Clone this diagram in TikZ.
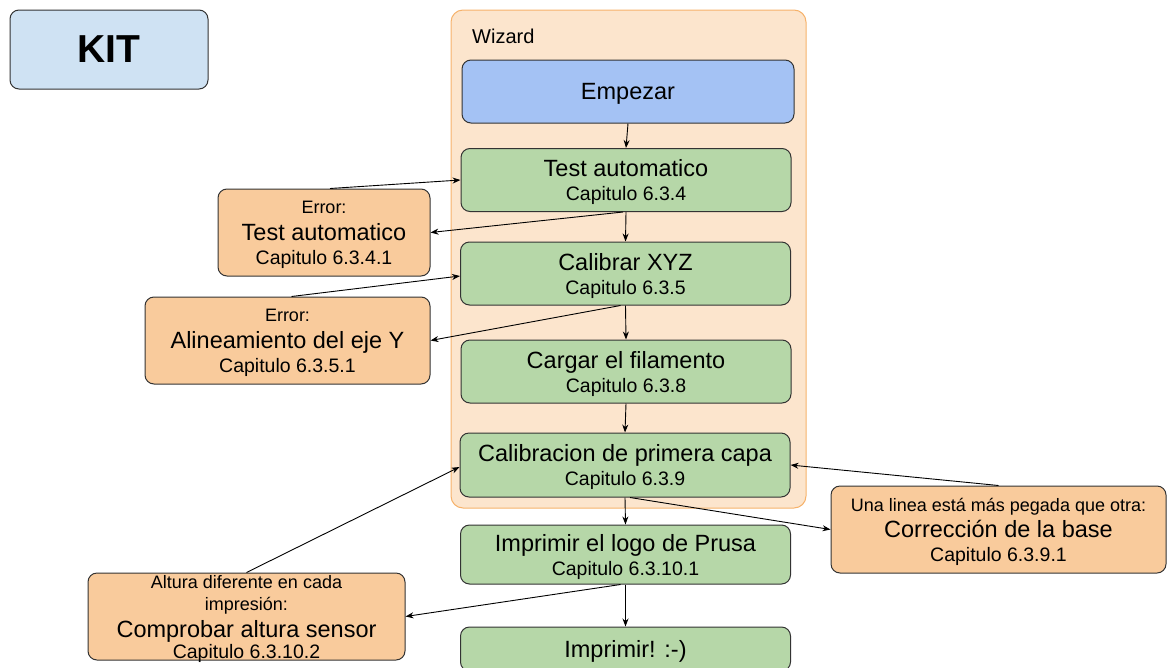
\documentclass[tikz,border=0pt]{standalone}
\usepackage{fontspec}
\setmainfont{Liberation Sans}
\usetikzlibrary{arrows.meta}
\definecolor{kitblue}{HTML}{CFE2F3}
\definecolor{wizfill}{HTML}{FCE5CD}
\definecolor{wizline}{HTML}{F6B26B}
\definecolor{startblue}{HTML}{A4C2F4}
\definecolor{stepgreen}{HTML}{B6D7A8}
\definecolor{erroror}{HTML}{F9CB9C}
\definecolor{edge}{HTML}{333333}
\newcommand\ttlfnt{\fontsize{23.5}{24}\selectfont\lineskiplimit=-20pt}
\newcommand\capfnt{\fontsize{19.5}{24}\selectfont}
\newcommand\smfnt{\fontsize{18}{24}\selectfont}
\tikzset{
  box/.style={draw=edge, line width=1pt, rounded corners=9pt, align=center,
    inner sep=0pt, font=\ttlfnt, text depth=0pt},
  stepbox/.style={box, fill=stepgreen, minimum width=330pt, minimum height=63pt},
  errbox/.style={box, fill=erroror, minimum height=87pt},
  arr/.style={-{Stealth[length=8pt,width=6pt]}, line width=0.9pt, draw=black},
}
\begin{document}
\begin{tikzpicture}[x=1pt,y=-1pt]
\useasboundingbox (0,0) rectangle (1167,667);
% KIT
\node[box, fill=kitblue, minimum width=198pt, minimum height=79pt,
  font=\fontsize{39}{40}\selectfont\bfseries] (kit) at (109,49.5) {KIT};
% Wizard container
\node[draw=wizline, fill=wizfill, line width=1pt, rounded corners=12pt,
  minimum width=355pt, minimum height=498pt, inner sep=0pt] (wiz) at (628.5,259) {};
\node[anchor=base west, inner sep=0pt, font=\fontsize{20}{22}\selectfont] (wizlbl) at (472,43) {Wizard};
% main steps
\node[box, fill=startblue, minimum width=332pt, minimum height=63pt] (emp) at (628,91.5) {Empezar};
\node[stepbox] (test) at (626,180) {Test automatico\\{\capfnt Capitulo 6.3.4}};
\node[stepbox] (cal) at (625.5,273.5) {Calibrar XYZ\\{\capfnt Capitulo 6.3.5}};
\node[stepbox] (carg) at (626,371.5) {Cargar el filamento\\{\capfnt Capitulo 6.3.8}};
\node[stepbox, minimum height=64pt] (capa) at (625,465) {Calibracion de primera capa\\{\capfnt Capitulo 6.3.9}};
\node[stepbox, minimum height=59pt] (logo) at (625.5,554.5) {Imprimir el logo de Prusa\\{\capfnt Capitulo 6.3.10.1}};
\node[stepbox, minimum height=44pt] (impr) at (625.5,649) {Imprimir! :-)};
% error boxes
\node[errbox, minimum width=212pt] (err1) at (324,232.5)
  {{\smfnt Error:}\\[3pt]Test automatico\\{\capfnt Capitulo 6.3.4.1}};
\node[errbox, minimum width=285pt] (err2) at (287.5,340.5)
  {{\smfnt Error:}\\[3pt]Alineamiento del eje Y\\{\capfnt Capitulo 6.3.5.1}};
\node[errbox, minimum width=335pt] (corr) at (998.5,529.5)
  {{\smfnt Una linea está más pegada que otra:}\\[2pt]Corrección de la base\\{\capfnt Capitulo 6.3.9.1}};
\node[errbox, minimum width=317pt] (comp) at (246.5,616.5)
  {{\smfnt Altura diferente en cada}\\[-2pt]{\smfnt impresión:}\\[3pt]Comprobar altura sensor\\[-3pt]{\capfnt Capitulo 6.3.10.2}};
% connectors
\draw[arr] (emp.south) -- (test.north);
\draw[arr] ([xshift=6pt]err1.north) -- (test.west);
\draw[arr] ([xshift=-3pt]test.south) -- (err1.east);
\draw[arr] (test.south) -- (cal.north);
\draw[arr] ([xshift=4pt]err2.north) -- ([yshift=-2.5pt]cal.west);
\draw[arr] ([xshift=-5pt]cal.south) -- (err2.east);
\draw[arr] (cal.south) -- (carg.north);
\draw[arr] (carg.south) -- (capa.north);
\draw[arr] (corr.north) -- (capa.east);
\draw[arr] ([xshift=5pt]capa.south) -- (corr.west);
\draw[arr] (capa.south) -- (logo.north);
\draw[arr] (comp.north) -- ([yshift=-2pt]capa.west);
\draw[arr] ([xshift=-5pt]logo.south) -- (comp.east);
\draw[arr] (logo.south) -- (impr.north);
\end{tikzpicture}
\end{document}
